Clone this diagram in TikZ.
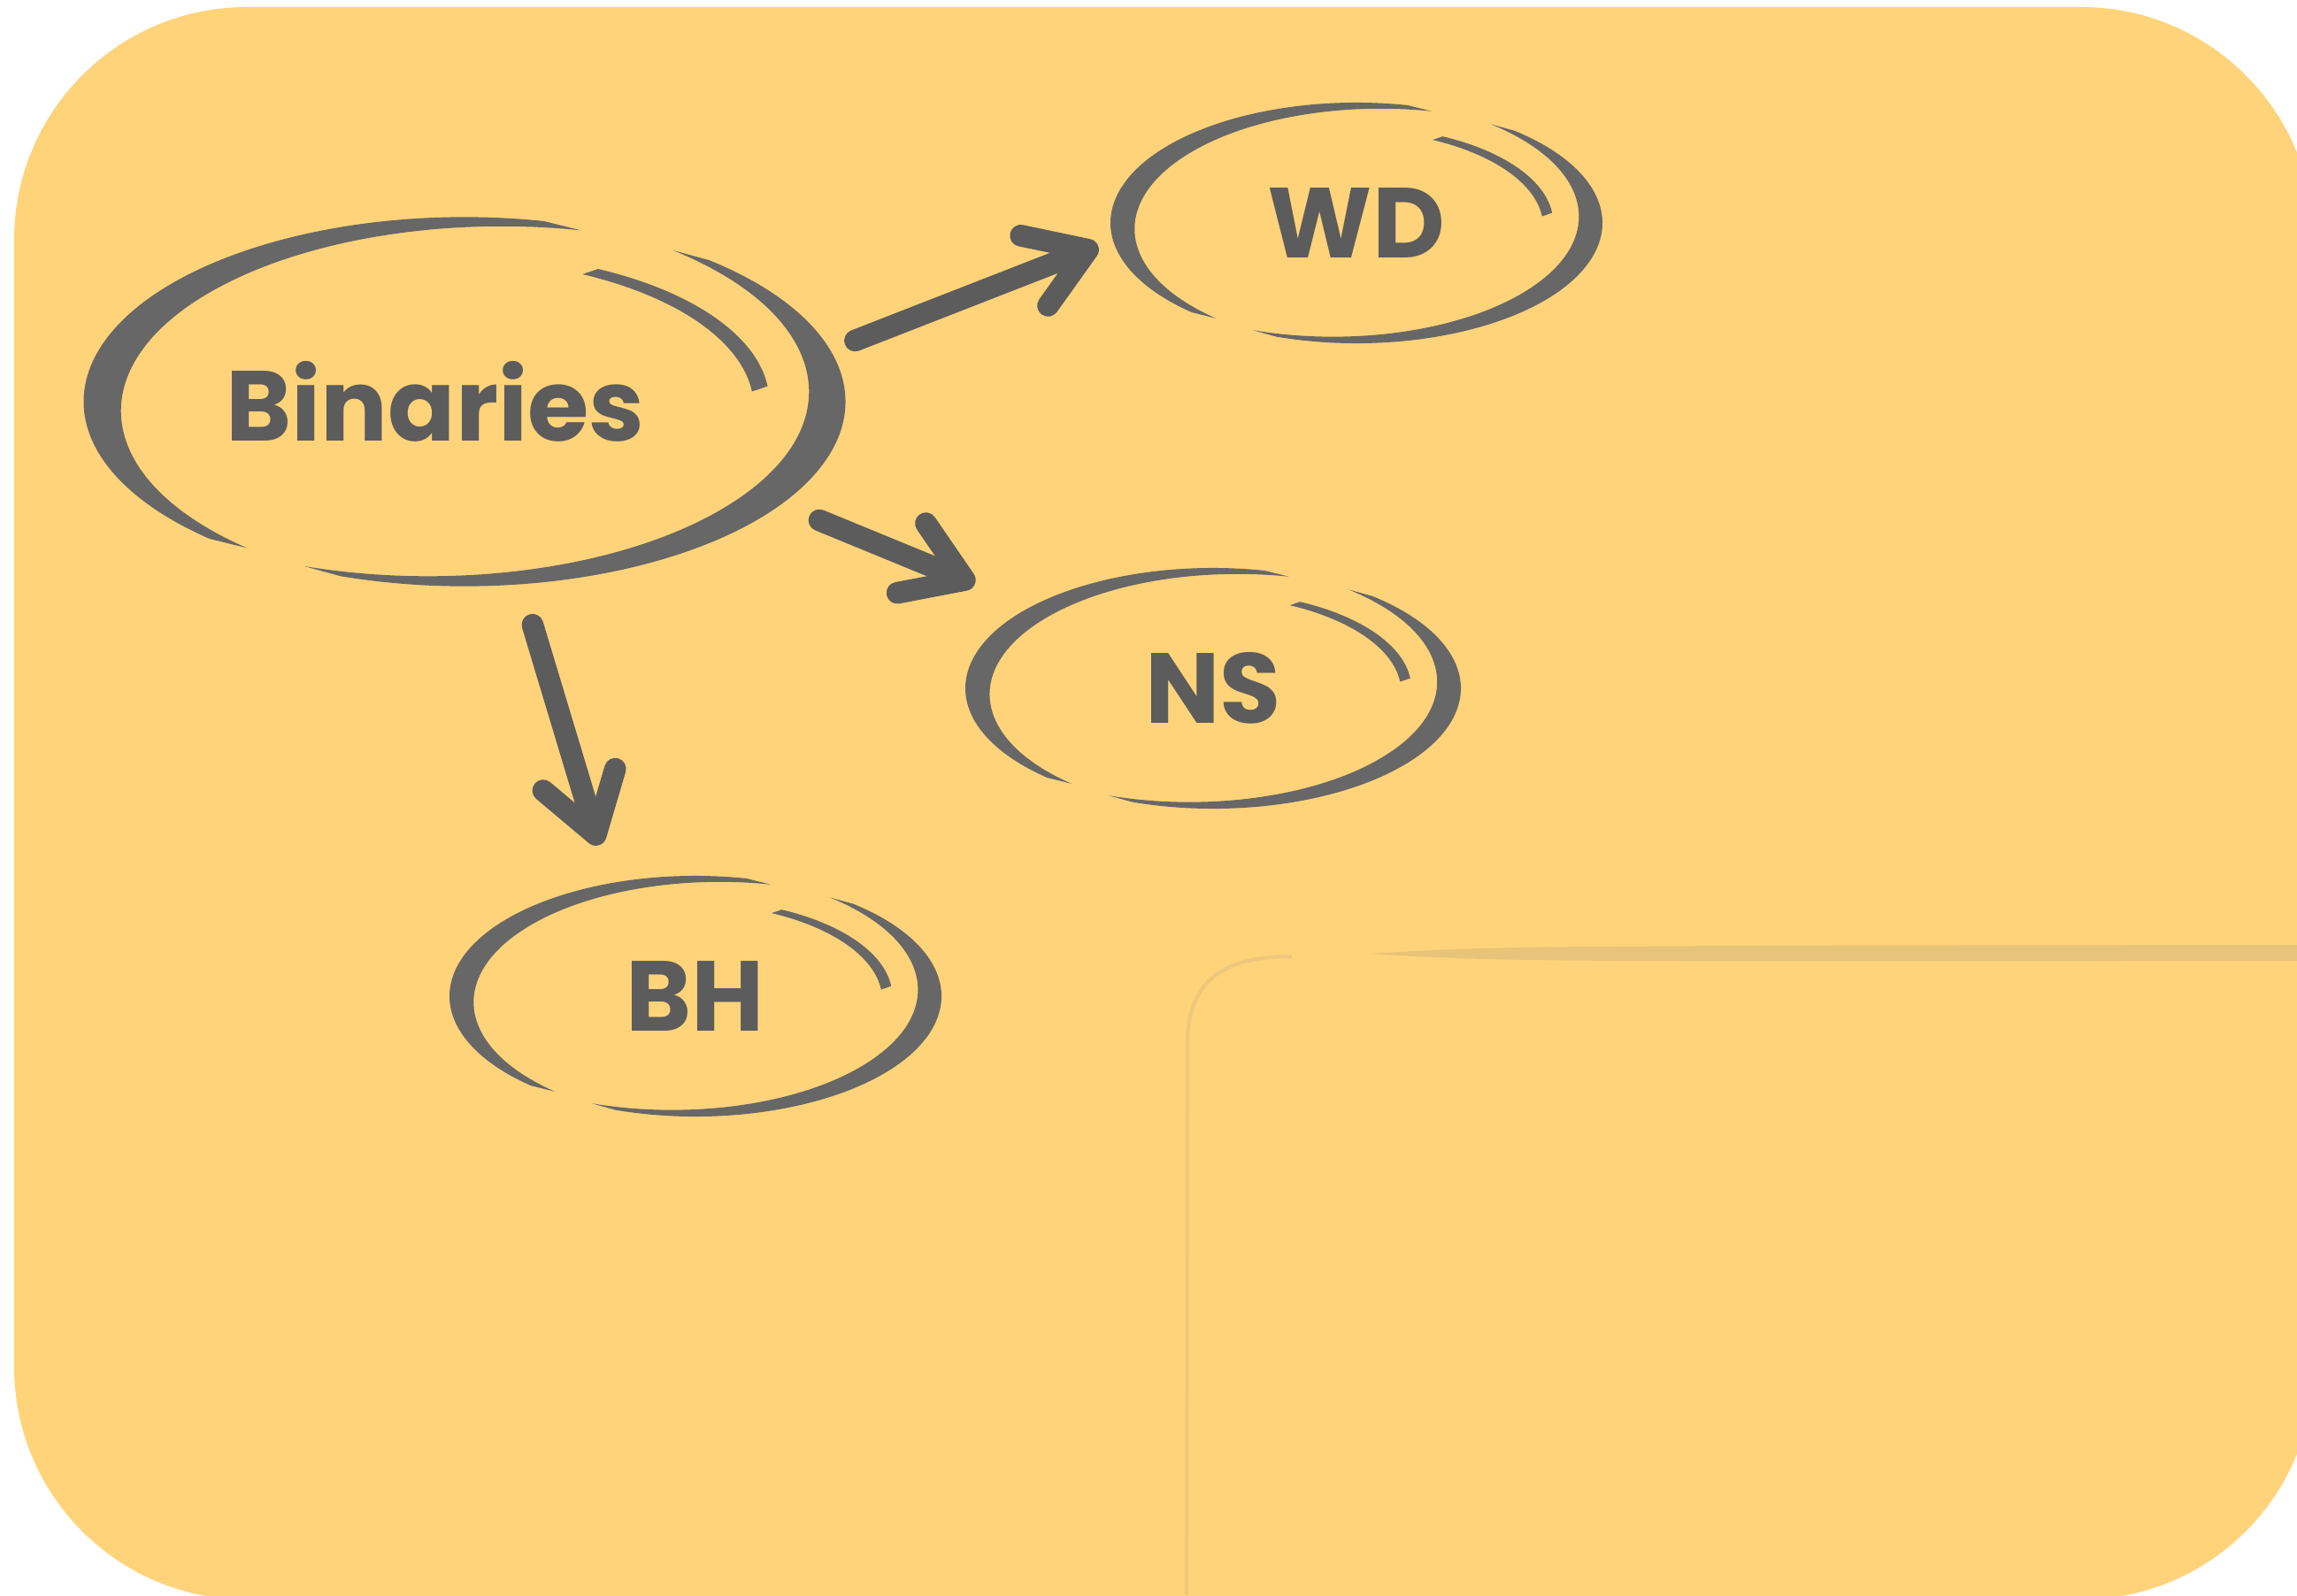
\documentclass[tikz,border=0pt]{standalone}
\usepackage{fontspec}
\setmainfont{Poppins}
\usetikzlibrary{positioning,arrows.meta,shapes.geometric}
\definecolor{notefill}{HTML}{FED37A}
\definecolor{notecrease}{HTML}{E8C47A}
\definecolor{ringink}{HTML}{676767}
\definecolor{penink}{HTML}{5C5C5C}

\newcommand{\ringpart}[4]{%
  \fill[ringink] (#1:#3) arc[start angle=#1, end angle=#2, radius=#3]
    -- ({#3*cos(#2)-#4*cos((#1+#2)/2)},{#3*sin(#2)-#4*sin((#1+#2)/2)})
    arc[start angle=#2, end angle=#1, radius=#3] -- cycle;}
\newcommand{\sketchring}[3]{%
  \begin{scope}[shift={(#1.center)}, xscale=#2, yscale=#3]
    \ringpart{78}{228}{1}{0.11}
    \ringpart{251}{410}{1}{0.11}
    \ringpart{64}{6}{0.8}{0.05}
  \end{scope}}

\begin{document}
\begin{tikzpicture}[
  >={Straight Barb[length=6.5mm, width=8.5mm, round]},
  sketchnode/.style={ellipse, inner sep=0pt, outer sep=0pt, text=penink, font=\fontsize{32}{32}\selectfont\bfseries},
  brush/.style={->, draw=penink, line width=7pt, line cap=round}
]
  \useasboundingbox (0,0) rectangle (25.96,18.03);
  \clip (0,0) rectangle (25.96,18.03);
  \fill[white] (0,0) rectangle (25.96,18.03);
  \fill[notefill, rounded corners=2.63cm] (0.16,-0.05) rectangle (26.15,17.95);
  \fill[notecrease] (15.48,7.25) .. controls (17.0,7.34) .. (26.2,7.35) -- (26.2,7.17) .. controls (17.0,7.16) .. (15.48,7.25) -- cycle;
  \draw[notecrease, line width=1.2pt, opacity=0.7] (13.41,0) -- (13.42,6.3) .. controls (13.45,7.0) and (13.9,7.22) .. (14.6,7.22);

  \node[sketchnode, minimum width=8.61cm, minimum height=4.17cm] (bin) at (5.25,13.49) {\hspace*{-0.66cm}Binaries};
  \node[sketchnode, minimum width=5.56cm, minimum height=2.72cm] (wd) at (15.33,15.51) {WD};
  \node[sketchnode, minimum width=5.60cm, minimum height=2.72cm] (ns) at (13.71,10.25) {NS};
  \node[sketchnode, minimum width=5.56cm, minimum height=2.72cm] (bh) at (7.86,6.77) {BH};
  \sketchring{bin}{4.305}{2.086}
  \sketchring{wd}{2.78}{1.36}
  \sketchring{ns}{2.80}{1.36}
  \sketchring{bh}{2.78}{1.36}

  \draw[brush, shorten <=0.3cm, shorten >=0.18cm] (bin.8) -- (wd.184);
  \draw[brush, shorten <=0.47cm, shorten >=0.68cm] (bin.-18) -- (ns.156);
  \draw[brush, shorten <=0.48cm, shorten >=0.45cm] (bin.-73) -- (bh.127);
\end{tikzpicture}
\end{document}
